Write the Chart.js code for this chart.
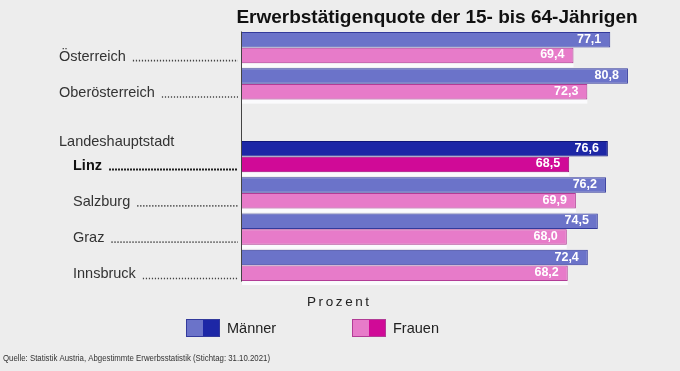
<!DOCTYPE html>
<html>
<head>
<meta charset="utf-8">
<script src="https://cdn.jsdelivr.net/npm/chart.js@4/dist/chart.umd.min.js"></script>
<style>
  html, body { margin: 0; padding: 0; background: #ededed; }
  #wrap { width: 680px; height: 371px; position: relative; }
</style>
</head>
<body>
<div id="wrap"><canvas id="chart"></canvas></div>
<script>
// Data
const categories = ['Österreich', 'Oberösterreich', '', 'Linz', 'Salzburg', 'Graz', 'Innsbruck'];
const maenner = [77.1, 80.8, null, 76.6, 76.2, 74.5, 72.4];
const frauen = [69.4, 72.3, null, 68.5, 69.9, 68.0, 68.2];
const groupHeading = 'Landeshauptstadt';
const highlight = 'Linz';
const titleText = 'Erwerbstätigenquote der 15- bis 64-Jährigen';
const axisTitle = 'Prozent';
const seriesNames = ['Männer', 'Frauen'];
const sourceText = 'Quelle: Statistik Austria, Abgestimmte Erwerbsstatistik (Stichtag: 31.10.2021)';

const FONT = '"Liberation Sans", Arial, sans-serif';
const hlIndex = categories.indexOf(highlight);

// colours: light fill, dark fill (highlight), border
const blue = { light: '#6b73c9', dark: '#1d27a6', border: '#333a9c', hlBorder: '#11177a' };
const pink = { light: '#e77bc9', dark: '#d00a97', border: '#b23c96', hlBorder: '#a0087a' };

function fmt(v) {
  return v.toFixed(1).replace('.', ',');
}

const overlay = {
  id: 'overlay',
  beforeDatasetsDraw(chart) {
    // white strip under each pair of bars, like in the original
    const ctx = chart.ctx;
    const area = chart.chartArea;
    ctx.save();
    ctx.fillStyle = '#fbfbfd';
    chart.getDatasetMeta(1).data.forEach((bar, i) => {
      if (frauen[i] == null) return;
      const bottom = bar.y + bar.height / 2;
      ctx.fillRect(area.left, bottom, bar.x - area.left, 4);
    });
    ctx.restore();
  },
  afterDatasetsDraw(chart) {
    const ctx = chart.ctx;
    // value labels inside bar ends
    ctx.save();
    ctx.fillStyle = '#ffffff';
    ctx.font = 'bold 12.5px ' + FONT;
    ctx.textAlign = 'right';
    ctx.textBaseline = 'middle';
    chart.data.datasets.forEach((ds, di) => {
      chart.getDatasetMeta(di).data.forEach((bar, i) => {
        if (ds.data[i] == null) return;
        ctx.fillText(fmt(ds.data[i]), bar.x - 9, bar.y - 0.5);
      });
    });
    ctx.restore();
  },
  afterDraw(chart) {
    const ctx = chart.ctx;
    const area = chart.chartArea;
    const y = chart.scales.y;

    ctx.save();
    // y axis line
    ctx.strokeStyle = '#444';
    ctx.lineWidth = 1;
    ctx.beginPath();
    ctx.moveTo(area.left - 0.5, area.top + 2);
    ctx.lineTo(area.left - 0.5, area.bottom - 2);
    ctx.stroke();

    // title
    ctx.fillStyle = '#111';
    ctx.font = 'bold 19px ' + FONT;
    ctx.textAlign = 'center';
    ctx.textBaseline = 'middle';
    ctx.fillText(titleText, 437, 18);

    // category labels with dotted leaders
    ctx.textAlign = 'left';
    categories.forEach((c, i) => {
      if (!c) return;
      const sub = i >= hlIndex;
      const bold = i === hlIndex;
      const x0 = sub ? 73 : 59;
      const yy = y.getPixelForValue(i) + 9;
      ctx.font = (bold ? 'bold ' : '') + '14.5px ' + FONT;
      ctx.fillStyle = bold ? '#111' : '#333';
      ctx.fillText(c, x0, yy);
      const w = ctx.measureText(c).width;
      ctx.strokeStyle = bold ? '#222' : '#444';
      ctx.lineWidth = bold ? 2 : 1.6;
      ctx.setLineDash(bold ? [2, 1] : [1.2, 1.8]);
      ctx.beginPath();
      ctx.moveTo(x0 + w + 7, yy + 4);
      ctx.lineTo(area.left - 4, yy + 4);
      ctx.stroke();
      ctx.setLineDash([]);
    });
    // group heading above Linz
    ctx.font = '14.5px ' + FONT;
    ctx.fillStyle = '#333';
    ctx.fillText(groupHeading, 59, y.getPixelForValue(hlIndex) - 15);

    // axis title, letter spaced
    ctx.font = '13.5px ' + FONT;
    ctx.fillStyle = '#222';
    let px = 307;
    for (const ch of axisTitle) {
      ctx.fillText(ch, px, 302);
      px += ctx.measureText(ch).width + 2.6;
    }

    // legend: two-tone swatches
    const items = [[seriesNames[0], blue, 186], [seriesNames[1], pink, 352]];
    items.forEach(([name, col, lx]) => {
      ctx.fillStyle = col.light;
      ctx.fillRect(lx, 319, 17, 18);
      ctx.fillStyle = col.dark;
      ctx.fillRect(lx + 17, 319, 17, 18);
      ctx.strokeStyle = col.border;
      ctx.lineWidth = 1;
      ctx.strokeRect(lx + 0.5, 319.5, 33, 17);
      ctx.font = '14.5px ' + FONT;
      ctx.fillStyle = '#222';
      ctx.fillText(name, lx + 41, 329);
    });

    // source line (narrow)
    ctx.font = '9.5px ' + FONT;
    ctx.fillStyle = '#333';
    const sw = ctx.measureText(sourceText).width;
    ctx.translate(3, 358);
    ctx.scale(267 / sw, 1);
    ctx.fillText(sourceText, 0, 0);
    ctx.restore();
  }
};

function barColor(col) {
  return ctx => ctx.dataIndex === hlIndex ? col.dark : col.light;
}
function barBorder(col) {
  return ctx => ctx.dataIndex === hlIndex ? col.hlBorder : col.border;
}

new Chart(document.getElementById('chart'), {
  type: 'bar',
  data: {
    labels: categories,
    datasets: [
      {
        label: seriesNames[0],
        data: maenner,
        backgroundColor: barColor(blue),
        borderColor: barBorder(blue),
        borderWidth: 1
      },
      {
        label: seriesNames[1],
        data: frauen,
        backgroundColor: barColor(pink),
        borderColor: barBorder(pink),
        borderWidth: 1
      }
    ]
  },
  options: {
    indexAxis: 'y',
    responsive: true,
    maintainAspectRatio: false,
    animation: false,
    layout: { padding: { left: 242, right: 32, top: 29.5, bottom: 87.4 } },
    datasets: { bar: { categoryPercentage: 0.87, barPercentage: 0.98 } },
    plugins: {
      legend: { display: false },
      title: { display: false },
      tooltip: { enabled: false }
    },
    scales: {
      x: { display: false, min: 0, max: 85 },
      y: { display: false }
    }
  },
  plugins: [overlay]
});
</script>
</body>
</html>
